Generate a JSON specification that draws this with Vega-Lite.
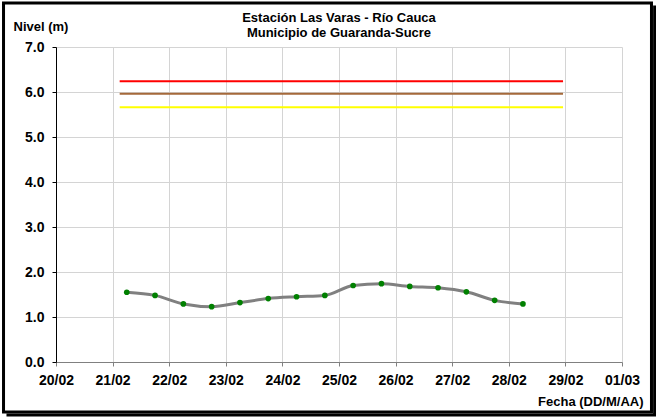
{
  "$schema": "https://vega.github.io/schema/vega-lite/v6.json",
  "width": 566,
  "height": 315,
  "autosize": {"type": "none"},
  "padding": {"left": 56, "top": 47, "right": 34, "bottom": 56},
  "background": "white",
  "config": {"view": {"stroke": null}, "font": "Liberation Sans"},
  "title": {
    "text": ["Estación Las Varas - Río Cauca", "Municipio de Guaranda-Sucre"],
    "fontSize": 13, "fontWeight": "bold", "font": "Liberation Sans",
    "anchor": "middle", "frame": "group", "offset": -39, "lineHeight": 15, "color": "black"
  },
  "datasets": {
    "niveles": [
      {"fecha": "2024-02-21T06:00:00", "nivel": 1.55},
      {"fecha": "2024-02-21T18:00:00", "nivel": 1.48},
      {"fecha": "2024-02-22T06:00:00", "nivel": 1.29},
      {"fecha": "2024-02-22T18:00:00", "nivel": 1.23},
      {"fecha": "2024-02-23T06:00:00", "nivel": 1.32},
      {"fecha": "2024-02-23T18:00:00", "nivel": 1.41},
      {"fecha": "2024-02-24T06:00:00", "nivel": 1.45},
      {"fecha": "2024-02-24T18:00:00", "nivel": 1.48},
      {"fecha": "2024-02-25T06:00:00", "nivel": 1.70},
      {"fecha": "2024-02-25T18:00:00", "nivel": 1.74},
      {"fecha": "2024-02-26T06:00:00", "nivel": 1.68},
      {"fecha": "2024-02-26T18:00:00", "nivel": 1.65},
      {"fecha": "2024-02-27T06:00:00", "nivel": 1.56},
      {"fecha": "2024-02-27T18:00:00", "nivel": 1.37},
      {"fecha": "2024-02-28T06:00:00", "nivel": 1.29}
    ],
    "umbrales": [
      {"alerta": "Alerta roja", "inicio": "2024-02-21T03:00:00", "fin": "2024-02-28T23:00:00", "nivel": 6.24},
      {"alerta": "Alerta naranja", "inicio": "2024-02-21T03:00:00", "fin": "2024-02-28T23:00:00", "nivel": 5.96},
      {"alerta": "Alerta amarilla", "inicio": "2024-02-21T03:00:00", "fin": "2024-02-28T23:00:00", "nivel": 5.66}
    ]
  },
  "layer": [
    {
      "data": {"name": "niveles"},
      "mark": {"type": "line", "interpolate": "monotone", "color": "#808080", "strokeWidth": 3},
      "encoding": {
        "x": {
          "field": "fecha", "type": "temporal",
          "scale": {"domain": [{"year": 2024, "month": 2, "date": 20}, {"year": 2024, "month": 3, "date": 1}]},
          "axis": {
            "values": [
              {"year": 2024, "month": 2, "date": 20}, {"year": 2024, "month": 2, "date": 21},
              {"year": 2024, "month": 2, "date": 22}, {"year": 2024, "month": 2, "date": 23},
              {"year": 2024, "month": 2, "date": 24}, {"year": 2024, "month": 2, "date": 25},
              {"year": 2024, "month": 2, "date": 26}, {"year": 2024, "month": 2, "date": 27},
              {"year": 2024, "month": 2, "date": 28}, {"year": 2024, "month": 2, "date": 29},
              {"year": 2024, "month": 3, "date": 1}
            ],
            "format": "%d/%m", "formatType": "time",
            "labelFontSize": 14, "labelFontWeight": "bold", "labelColor": "black",
            "labelFlush": false, "labelOverlap": false, "labelPadding": 7,
            "grid": true, "gridColor": "#D4D4D4", "gridWidth": 1,
            "domainColor": "#808080", "tickColor": "#808080", "tickSize": 4,
            "title": "Fecha (DD/M/AA)", "titleFontSize": 13, "titleFontWeight": "bold", "titleColor": "black",
            "titleX": 587, "titleY": 39, "titleAlign": "right", "titleBaseline": "middle", "titleAngle": 0
          }
        },
        "y": {
          "field": "nivel", "type": "quantitative",
          "scale": {"domain": [0, 7], "nice": false},
          "axis": {
            "values": [0, 1, 2, 3, 4, 5, 6, 7], "format": ".1f",
            "labelFontSize": 14, "labelFontWeight": "bold", "labelColor": "black", "labelPadding": 8,
            "grid": true, "gridColor": "#D4D4D4", "gridWidth": 1,
            "domainColor": "black", "tickColor": "black", "tickSize": 4,
            "title": "Nivel (m)", "titleFontSize": 13, "titleFontWeight": "bold", "titleColor": "black",
            "titleAngle": 0, "titleX": -43, "titleY": -21, "titleAlign": "left", "titleBaseline": "middle"
          }
        }
      }
    },
    {
      "data": {"name": "niveles"},
      "mark": {"type": "circle", "color": "#008000", "size": 32, "opacity": 1},
      "encoding": {
        "x": {"field": "fecha", "type": "temporal"},
        "y": {"field": "nivel", "type": "quantitative"}
      }
    },
    {
      "data": {"name": "umbrales"},
      "mark": {"type": "rule", "strokeWidth": 2},
      "encoding": {
        "x": {"field": "inicio", "type": "temporal"},
        "x2": {"field": "fin"},
        "y": {"field": "nivel", "type": "quantitative"},
        "color": {
          "field": "alerta", "type": "nominal", "legend": null,
          "scale": {"domain": ["Alerta roja", "Alerta naranja", "Alerta amarilla"], "range": ["#FF0000", "#A5693A", "#FFFF00"]}
        }
      }
    },
    {
      "data": {"values": [{}]},
      "mark": {"type": "rect", "fill": null, "stroke": "black", "strokeWidth": 3},
      "encoding": {
        "x": {"datum": {"year": 2024, "month": 2, "date": 19, "hours": 1, "minutes": 45}, "type": "temporal"},
        "x2": {"datum": {"year": 2024, "month": 3, "date": 1, "hours": 12, "minutes": 30}},
        "y": {"datum": 7.98, "type": "quantitative"},
        "y2": {"datum": -1.11}
      }
    },
    {
      "data": {"values": [{}]},
      "mark": {"type": "rule", "stroke": "black", "strokeWidth": 3},
      "encoding": {
        "x": {"datum": {"year": 2024, "month": 3, "date": 1, "hours": 13, "minutes": 50}, "type": "temporal"},
        "y": {"datum": 7.92, "type": "quantitative"},
        "y2": {"datum": -1.18}
      }
    },
    {
      "data": {"values": [{}]},
      "mark": {"type": "rule", "stroke": "black", "strokeWidth": 3},
      "encoding": {
        "x": {"datum": {"year": 2024, "month": 2, "date": 19, "hours": 3, "minutes": 0}, "type": "temporal"},
        "x2": {"datum": {"year": 2024, "month": 3, "date": 1, "hours": 14, "minutes": 30}},
        "y": {"datum": -1.178, "type": "quantitative"}
      }
    }
  ]
}
